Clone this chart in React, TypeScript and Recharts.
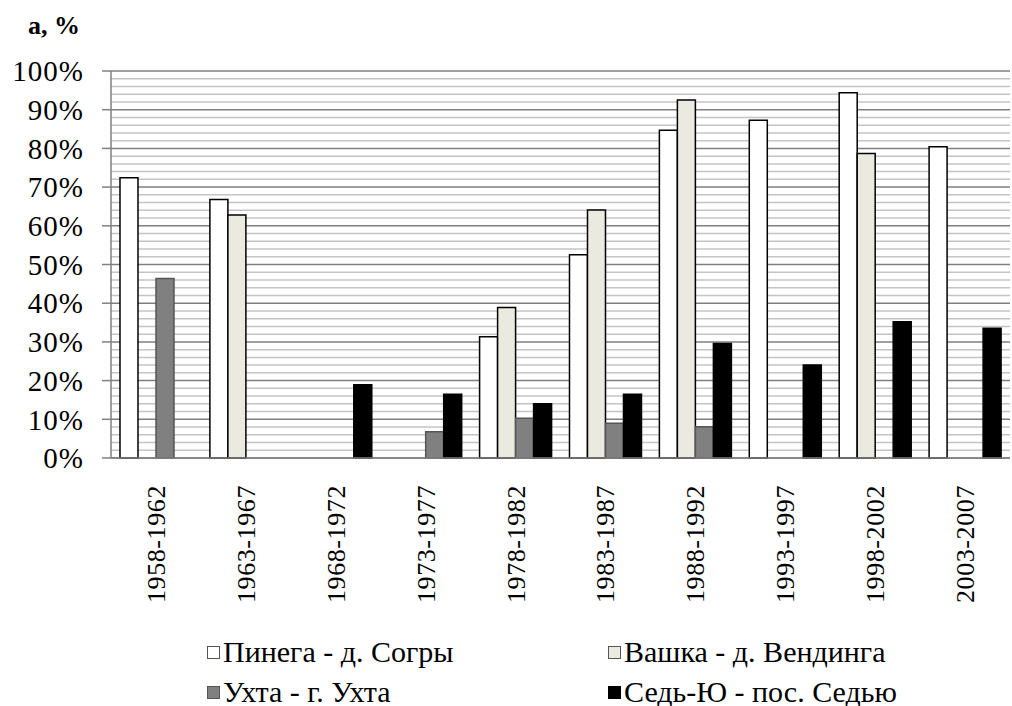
import React from 'react';
import { BarChart, Bar, XAxis, YAxis, CartesianGrid } from 'recharts';

// periods on the x axis
const periods = [
  '1958-1962', '1963-1967', '1968-1972', '1973-1977', '1978-1982',
  '1983-1987', '1988-1992', '1993-1997', '1998-2002', '2003-2007',
];

// values in %, null = no bar
const pinega = [72.4, 66.8, null, 0, 31.3, 52.5, 84.7, 87.3, 94.4, 80.4];
const vashka = [null, 62.8, null, 0, 38.9, 64.1, 92.5, null, 78.7, null];
const ukhta = [46.4, null, null, 6.8, 10.3, 9.0, 8.1, null, null, null];
const sed = [null, null, 18.9, 16.5, 14.0, 16.5, 29.6, 24.0, 35.2, 33.5];

const majorTicks = [0, 10, 20, 30, 40, 50, 60, 70, 80, 90, 100];
const minorTicks = [
  2, 4, 6, 8, 12, 14, 16, 18, 22, 24, 26, 28, 32, 34, 36, 38, 42, 44, 46, 48,
  52, 54, 56, 58, 62, 64, 66, 68, 72, 74, 76, 78, 82, 84, 86, 88, 92, 94, 96, 98,
];

const series = [
  { key: 'pinega', name: 'Пинега - д. Согры', fill: '#ffffff', stroke: '#000000' },
  { key: 'vashka', name: 'Вашка - д. Вендинга', fill: '#ebeae0', stroke: '#000000' },
  { key: 'ukhta', name: 'Ухта - г. Ухта', fill: '#808080', stroke: '#555555' },
  { key: 'sed', name: 'Седь-Ю - пос. Седью', fill: '#000000', stroke: '#000000' },
];

const data = periods.map((p, i) => ({
  period: p,
  pinega: pinega[i],
  vashka: vashka[i],
  ukhta: ukhta[i],
  sed: sed[i],
}));

const FONT = '"Liberation Serif", "Times New Roman", serif';

const PeriodTick = (props: any) => {
  const { x, y, payload } = props;
  return (
    <text
      transform={`translate(${x + 9},${y + 27}) rotate(-90)`}
      textAnchor="end"
      fontFamily={FONT}
      fontSize={26}
      letterSpacing={0.6}
      fill="#000"
    >
      {payload.value}
    </text>
  );
};

export default function App() {
  return (
    <div style={{ position: 'absolute', left: 0, top: 0, width: 1012, height: 706, background: '#fff' }}>
      <div style={{ position: 'absolute', left: 28, top: 11, fontFamily: FONT, fontWeight: 'bold', fontSize: 26 }}>
        а, %
      </div>
      <BarChart
        width={1012}
        height={706}
        data={data}
        margin={{ top: 71, right: 2, left: 0, bottom: 0 }}
        barCategoryGap="10%"
        barGap={0}
      >
        {/* light lines every 2%, darker ones every 10% */}
        <CartesianGrid vertical={false} horizontalValues={minorTicks} stroke="#c4c4c4" strokeWidth={1.5} />
        <CartesianGrid vertical={false} stroke="#7f7f7f" strokeWidth={1.5} />
        <XAxis
          dataKey="period"
          height={248}
          tickLine={false}
          tickSize={0}
          tickMargin={0}
          axisLine={{ stroke: '#808080', strokeWidth: 1.5 }}
          tick={<PeriodTick />}
          interval={0}
        />
        <YAxis
          width={111}
          domain={[0, 100]}
          ticks={majorTicks}
          tickFormatter={(v: number) => `${v}%`}
          tickSize={9}
          tickMargin={18}
          axisLine={{ stroke: '#808080', strokeWidth: 1.5 }}
          tickLine={{ stroke: '#808080', strokeWidth: 1.5 }}
          tick={{ fontFamily: FONT, fontSize: 29, letterSpacing: 1, fill: '#000' }}
          interval={0}
        />
        {series.map(s => (
          <Bar
            key={s.key}
            dataKey={s.key}
            name={s.name}
            fill={s.fill}
            stroke={s.stroke}
            strokeWidth={1.5}
            isAnimationActive={false}
          />
        ))}
      </BarChart>
      <div
        style={{
          position: 'absolute',
          left: 207,
          top: 632,
          display: 'grid',
          gridTemplateColumns: '401px 320px',
          fontFamily: FONT,
          fontSize: 30,
          color: '#000',
        }}
      >
        {series.map(s => (
          <div key={s.key} style={{ display: 'flex', alignItems: 'center', height: 40 }}>
            <span
              style={{
                display: 'inline-block',
                flex: 'none',
                width: 11,
                height: 11,
                background: s.fill,
                border: `1px solid ${s.key === 'sed' ? '#000' : '#555'}`,
                marginRight: 3,
              }}
            />
            <span style={{ whiteSpace: 'nowrap' }}>{s.name}</span>
          </div>
        ))}
      </div>
    </div>
  );
}
